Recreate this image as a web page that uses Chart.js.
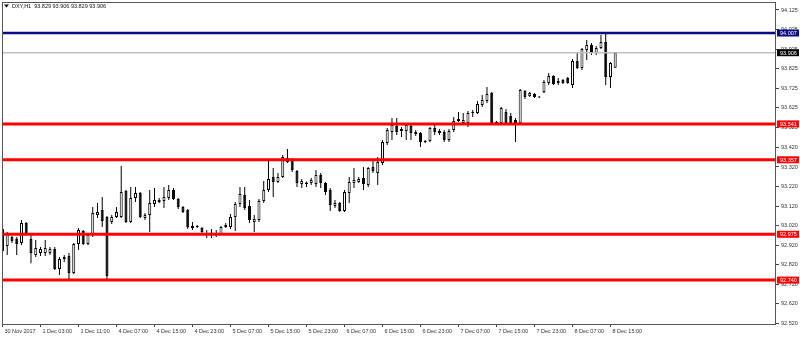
<!DOCTYPE html>
<html>
<head>
<meta charset="utf-8">
<script src="https://cdn.jsdelivr.net/npm/chart.js@4.4.1/dist/chart.umd.min.js"></script>
<style>
	html, body { margin: 0; padding: 0; background: #fff; }
</style>
</head>
<body>
<canvas id="myChart" width="800" height="338"></canvas>
<script>
const chartTitle = 'DXY,H1  93.829 93.906 93.829 93.906';

// etiquetas del eje de tiempo, una cada 8 velas
const timeLabels = [
	'30 Nov 2017', '1 Dec 03:00', '1 Dec 11:00', '4 Dec 07:00', '4 Dec 15:00', '4 Dec 23:00',
	'5 Dec 07:00', '5 Dec 15:00', '5 Dec 23:00', '6 Dec 07:00', '6 Dec 15:00', '6 Dec 23:00',
	'7 Dec 07:00', '7 Dec 15:00', '7 Dec 23:00', '8 Dec 07:00', '8 Dec 15:00',
];

const priceTicks = [
	94.125, 94.025, 93.925, 93.825, 93.725, 93.625, 93.525, 93.420, 93.320,
	93.220, 93.120, 93.020, 92.920, 92.820, 92.720, 92.620, 92.520,
];

// niveles horizontales
const resistanceLevels = [94.007];
const bidPrice = 93.906;
const supportLevels = [93.541, 93.357, 92.975, 92.740];

// velas H1 (O, H, L, C)
const opens = [
	93.002, 92.915, 92.961, 92.951, 92.930, 93.033, 92.951, 92.869, 92.879, 92.879,
	92.879, 92.900, 92.797, 92.859, 92.864, 92.776, 92.925, 92.992, 92.925, 92.971,
	93.074, 93.099, 93.064, 93.038, 93.064, 93.064, 93.197, 93.038, 93.161, 93.187,
	93.058, 93.074, 93.130, 93.151, 93.146, 93.161, 93.202, 93.156, 93.115, 93.099,
	93.007, 93.017, 93.007, 92.981, 92.981, 92.976, 92.976, 93.012, 93.012, 93.064,
	93.130, 93.176, 93.120, 93.038, 93.048, 93.146, 93.202, 93.269, 93.243, 93.269,
	93.366, 93.361, 93.299, 93.233, 93.233, 93.238, 93.233, 93.279, 93.238, 93.202,
	93.120, 93.135, 93.094, 93.187, 93.238, 93.243, 93.263, 93.228, 93.320, 93.289,
	93.340, 93.443, 93.499, 93.530, 93.515, 93.504, 93.530, 93.499, 93.494, 93.453,
	93.453, 93.520, 93.504, 93.499, 93.458, 93.510, 93.566, 93.545, 93.545, 93.597,
	93.597, 93.638, 93.658, 93.699, 93.551, 93.545, 93.602, 93.581, 93.561, 93.545,
	93.710, 93.684, 93.694, 93.681, 93.704, 93.751, 93.786, 93.751, 93.766, 93.776,
	93.740, 93.863, 93.827, 93.920, 93.945, 93.904, 93.930, 93.961, 93.781, 93.829,
];
const highs = [
	93.012, 92.987, 92.966, 92.961, 93.048, 93.038, 92.971, 92.946, 92.910, 92.946,
	92.910, 92.910, 92.859, 92.869, 92.879, 92.930, 93.007, 92.997, 92.981, 93.115,
	93.135, 93.166, 93.069, 93.074, 93.115, 93.325, 93.202, 93.217, 93.217, 93.192,
	93.084, 93.202, 93.212, 93.161, 93.217, 93.228, 93.212, 93.161, 93.120, 93.105,
	93.038, 93.023, 93.012, 92.997, 93.002, 92.997, 93.017, 93.033, 93.079, 93.140,
	93.217, 93.217, 93.151, 93.074, 93.156, 93.248, 93.356, 93.315, 93.289, 93.381,
	93.412, 93.366, 93.305, 93.258, 93.246, 93.263, 93.305, 93.289, 93.243, 93.212,
	93.151, 93.140, 93.202, 93.269, 93.315, 93.269, 93.320, 93.320, 93.356, 93.371,
	93.458, 93.520, 93.571, 93.571, 93.525, 93.545, 93.535, 93.510, 93.499, 93.458,
	93.525, 93.545, 93.515, 93.510, 93.515, 93.576, 93.602, 93.597, 93.607, 93.612,
	93.658, 93.689, 93.730, 93.704, 93.556, 93.627, 93.617, 93.597, 93.571, 93.720,
	93.715, 93.704, 93.699, 93.684, 93.766, 93.802, 93.791, 93.776, 93.771, 93.781,
	93.874, 93.904, 93.930, 93.971, 93.956, 93.940, 93.997, 94.007, 93.858, 93.906,
];
const lows = [
	92.884, 92.869, 92.930, 92.869, 92.920, 92.976, 92.827, 92.859, 92.864, 92.864,
	92.869, 92.792, 92.766, 92.833, 92.735, 92.771, 92.894, 92.920, 92.920, 92.961,
	93.058, 93.012, 92.737, 93.028, 93.058, 93.058, 93.033, 93.033, 93.140, 93.058,
	93.048, 92.987, 93.115, 93.135, 93.110, 93.151, 93.151, 93.105, 93.084, 93.002,
	92.997, 93.007, 92.976, 92.956, 92.956, 92.961, 92.971, 93.007, 93.002, 92.992,
	93.115, 93.099, 93.033, 92.987, 93.038, 93.135, 93.192, 93.166, 93.238, 93.263,
	93.340, 93.294, 93.217, 93.212, 93.217, 93.228, 93.217, 93.212, 93.176, 93.094,
	93.110, 93.089, 93.089, 93.135, 93.212, 93.238, 93.202, 93.217, 93.289, 93.228,
	93.330, 93.433, 93.458, 93.484, 93.474, 93.458, 93.458, 93.479, 93.422, 93.443,
	93.448, 93.484, 93.484, 93.448, 93.448, 93.499, 93.551, 93.535, 93.525, 93.576,
	93.592, 93.627, 93.648, 93.540, 93.540, 93.540, 93.535, 93.535, 93.448, 93.540,
	93.669, 93.679, 93.674, 93.674, 93.699, 93.740, 93.740, 93.740, 93.745, 93.745,
	93.725, 93.822, 93.817, 93.869, 93.894, 93.894, 93.925, 93.740, 93.725, 93.829,
];
const closes = [
	92.889, 92.976, 92.940, 92.925, 93.033, 92.981, 92.879, 92.905, 92.900, 92.905,
	92.900, 92.797, 92.848, 92.848, 92.776, 92.925, 92.997, 92.925, 92.971, 93.084,
	93.089, 93.043, 92.760, 93.064, 93.089, 93.192, 93.038, 93.161, 93.187, 93.064,
	93.074, 93.135, 93.151, 93.140, 93.166, 93.202, 93.156, 93.115, 93.089, 93.012,
	93.017, 93.012, 92.987, 92.976, 92.979, 92.981, 93.012, 93.023, 93.064, 93.130,
	93.182, 93.110, 93.048, 93.053, 93.146, 93.202, 93.258, 93.243, 93.269, 93.371,
	93.345, 93.305, 93.238, 93.248, 93.240, 93.253, 93.279, 93.238, 93.192, 93.125,
	93.135, 93.094, 93.192, 93.243, 93.253, 93.258, 93.233, 93.315, 93.299, 93.346,
	93.448, 93.510, 93.535, 93.499, 93.504, 93.535, 93.494, 93.489, 93.448, 93.448,
	93.520, 93.499, 93.494, 93.458, 93.504, 93.556, 93.556, 93.561, 93.597, 93.602,
	93.643, 93.664, 93.694, 93.545, 93.545, 93.622, 93.545, 93.545, 93.545, 93.715,
	93.679, 93.699, 93.679, 93.676, 93.756, 93.786, 93.745, 93.761, 93.751, 93.751,
	93.863, 93.827, 93.925, 93.945, 93.904, 93.930, 93.961, 93.781, 93.853, 93.906,
];

const FONT = { family: '"Liberation Sans", Arial, sans-serif', size: 5.5 };

const bodies = opens.map((o, i) => ({ x: i, y: [Math.min(o, closes[i]), Math.max(o, closes[i])] }));
const wicks = highs.map((h, i) => ({ x: i, y: [lows[i], h] }));

// lineas de niveles y recuadros del eje de precios
const levelsPlugin = {
	id: 'levels',
	afterDatasetsDraw(chart) {
		const { ctx, chartArea: a, scales: { y } } = chart;
		ctx.save();
		ctx.beginPath();
		ctx.rect(a.left, a.top, a.right - a.left, a.bottom - a.top);
		ctx.clip();
		const line = (v, color, w) => {
			const py = y.getPixelForValue(v);
			ctx.strokeStyle = color;
			ctx.lineWidth = w;
			ctx.beginPath();
			ctx.moveTo(a.left, py);
			ctx.lineTo(a.right, py);
			ctx.stroke();
		};
		line(bidPrice, '#c0c0c0', 1.5);
		resistanceLevels.forEach((v) => line(v, '#0a0a82', 2.5));
		supportLevels.forEach((v) => line(v, '#ff0000', 3));
		ctx.restore();
	},
	afterDraw(chart) {
		const { ctx, chartArea: a, scales: { y } } = chart;
		ctx.save();
		// marco
		ctx.strokeStyle = '#555';
		ctx.lineWidth = 1;
		ctx.strokeRect(Math.round(a.left) + 0.5, Math.round(a.top) + 0.5,
			Math.round(a.right - a.left) - 1, Math.round(a.bottom - a.top));

		ctx.font = `${FONT.size}px ${FONT.family}`;
		ctx.textBaseline = 'middle';
		const box = (v, bg) => {
			const py = y.getPixelForValue(v);
			ctx.fillStyle = bg;
			ctx.fillRect(a.right + 1, py - 3.5, 22, 7);
			ctx.fillStyle = '#fff';
			ctx.fillText(v.toFixed(3), a.right + 4, py + 0.5);
		};
		resistanceLevels.forEach((v) => box(v, '#0a0a82'));
		box(bidPrice, '#000');
		supportLevels.forEach((v) => box(v, '#ff0000'));

		// titulo
		ctx.fillStyle = '#000';
		ctx.beginPath();
		ctx.moveTo(4, 4.5);
		ctx.lineTo(9, 4.5);
		ctx.lineTo(6.5, 7.5);
		ctx.closePath();
		ctx.fill();
		ctx.fillStyle = '#111';
		ctx.fillText(chartTitle, 12, 6.5);
		ctx.restore();
	},
};

const ctx = document.getElementById('myChart').getContext('2d');
new Chart(ctx, {
	type: 'bar',
	data: {
		datasets: [
			{
				label: 'cuerpo',
				data: bodies,
				grouped: false,
				barThickness: 3,
				minBarLength: 1,
				inflateAmount: 0,
				borderWidth: 1,
				borderSkipped: false,
				borderColor: '#000',
				backgroundColor: opens.map((o, i) => (closes[i] >= o ? '#fff' : '#000')),
				order: 0,
			},
			{
				label: 'mecha',
				data: wicks,
				grouped: false,
				barThickness: 1,
				inflateAmount: 0,
				backgroundColor: '#000',
				order: 1,
			},
		],
	},
	options: {
		responsive: false,
		animation: false,
		events: [],
		devicePixelRatio: 1,
		layout: { padding: { left: 2, top: 2, right: 0, bottom: 0 } },
		plugins: {
			legend: { display: false },
			tooltip: { enabled: false },
		},
		scales: {
			x: {
				type: 'linear',
				offset: false,
				min: -0.1,
				max: 162.85,
				grid: { offset: false, drawOnChartArea: false, tickLength: 3, color: '#444' },
				border: { display: false },
				afterBuildTicks: (s) => { s.ticks = timeLabels.map((t, k) => ({ value: k * 8 })); },
				afterFit: (s) => { s.height = 14; s.paddingLeft = 0; s.paddingRight = 0; },
				ticks: {
					autoSkip: false,
					maxRotation: 0,
					align: 'start',
					labelOffset: 2,
					padding: 1,
					color: '#333',
					font: FONT,
					callback: (v) => timeLabels[Math.round(v / 8)] || '',
				},
			},
			y: {
				position: 'right',
				min: 92.515,
				max: 94.166,
				grid: { drawOnChartArea: false, tickLength: 3, color: '#444' },
				border: { display: false },
				afterBuildTicks: (s) => { s.ticks = priceTicks.map((v) => ({ value: v })); },
				afterFit: (s) => { s.width = 24; s.paddingTop = 0; s.paddingBottom = 0; },
				ticks: {
					autoSkip: false,
					padding: 2,
					color: '#333',
					font: FONT,
					callback: (v) => v.toFixed(3),
				},
			},
		},
	},
	plugins: [levelsPlugin],
});
</script>
</body>
</html>
